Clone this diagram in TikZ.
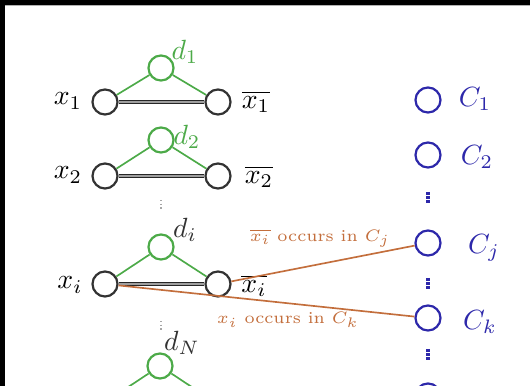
\documentclass[tikz,border=0pt]{standalone}
\usepackage{xcolor}

\definecolor{varGreen}{RGB}{76,170,72}
\definecolor{clauseBlue}{RGB}{45,40,170}
\definecolor{occOrange}{RGB}{195,110,60}

\tikzset{
  var/.style={circle, draw=black!80, line width=0.8pt, minimum size=9pt, inner sep=0pt},
  dummy/.style={var, draw=varGreen},
  clause/.style={var, draw=clauseBlue},
  rung/.style={draw=black!85, double=gray!75, double distance=0.45pt, line width=0.55pt},
  leg/.style={draw=varGreen},
  occ/.style={draw=occOrange},
  gap/.style={draw=gray!70, line width=0.45pt, dash pattern=on 0.45pt off 0.9pt},
  cgap/.style={draw=clauseBlue, line width=1.1pt, dash pattern=on 1pt off 0.5pt},
}

\begin{document}
\begin{tikzpicture}[x=0.36pt, y=-0.36pt, line width=0.6pt]
\useasboundingbox (0,0) rectangle (530,386);
\clip (0,0) rectangle (530,386);

% screen edge
\fill[black] (0,0) rectangle (530,5);
\fill[black] (0,0) rectangle (5,386);
\draw[gray!60, line width=0.3pt] (5,5.6) -- (530,5.6);

\node[var] (x1) at (105,102) {};
\node[var] (nx1) at (218,102) {};
\node[dummy] (d1) at (161,68) {};

\node[var] (x2) at (105,176) {};
\node[var] (nx2) at (218,176) {};
\node[dummy] (d2) at (161,140) {};

\node[var] (xi) at (105,284) {};
\node[var] (nxi) at (218,284) {};
\node[dummy] (di) at (161,247) {};

\node[dummy] (dN) at (160,366) {};
\coordinate (xN) at (104,403);
\coordinate (nxN) at (216,403);

\node (lx1) at (68,101) {$x_1$};
\node (lnx1) at (256,102) {$\overline{x_1}$};
\node[text=varGreen] (ld1) at (185,52) {$d_1$};
\node (lx2) at (68,175) {$x_2$};
\node (lnx2) at (259,177) {$\overline{x_2}$};
\node[text=varGreen] (ld2) at (187,137) {$d_2$};
\node (lxi) at (70,285) {$x_i$};
\node (lnxi) at (254,286) {$\overline{x_i}$};
\node[text=black!80] (ldi) at (185,230) {$d_i$};
\node[text=black!80] (ldN) at (182,343) {$d_N$};

\node[clause] (C1) at (428,100) {};
\node[clause] (C2) at (428,155) {};
\node[clause] (Cj) at (428,243) {};
\node[clause] (Ck) at (428,318) {};
\node[clause] (Cm) at (428,396) {};

\node[text=clauseBlue] (lC1) at (475,99) {$C_1$};
\node[text=clauseBlue] (lC2) at (477,157) {$C_2$};
\node[text=clauseBlue] (lCj) at (484,248) {$C_j$};
\node[text=clauseBlue] (lCk) at (480,322) {$C_k$};

\node[text=occOrange, font=\fontsize{6}{7}\selectfont] (occj) at (320,238) {$\overline{x_i}$ occurs in $C_j$};
\node[text=occOrange, font=\fontsize{6}{7}\selectfont] (occk) at (288,320) {$x_i$ occurs in $C_k$};

\draw[rung] (x1) -- (nx1);
\draw[rung] (x2) -- (nx2);
\draw[rung] (xi) -- (nxi);

\draw[leg] (x1) -- (d1) -- (nx1);
\draw[leg] (x2) -- (d2) -- (nx2);
\draw[leg] (xi) -- (di) -- (nxi);
\draw[leg] (xN) -- (dN) -- (nxN);

\draw[occ] (nxi) -- (Cj);
\draw[occ] (xi) -- (Ck);

% elided rows
\draw[gap] (161,200) -- (161,211);
\draw[gap] (161,321) -- (161,332);
\draw[cgap] (428,192) -- (428,203);
\draw[cgap] (428,278) -- (428,289);
\draw[cgap] (428,349) -- (428,360);

\end{tikzpicture}
\end{document}
